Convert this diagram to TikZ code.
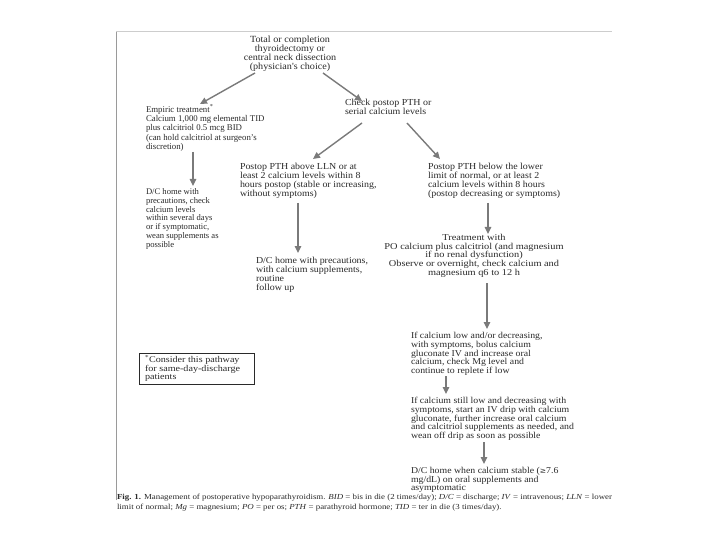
\documentclass[tikz,border=0pt]{standalone}
\usepackage{fontspec}
\setmainfont{Liberation Serif}
\newfontfamily\stA[FakeStretch=1.08]{Liberation Serif}
\newfontfamily\stB[FakeStretch=1.15]{Liberation Serif}
\newfontfamily\stC[FakeStretch=1.09]{Liberation Serif}
\usetikzlibrary{arrows.meta}
\definecolor{txt}{HTML}{2A2A2A}
\definecolor{arr}{HTML}{7A7A7A}
\definecolor{frm}{HTML}{9A9A9A}
\begin{document}
\begin{tikzpicture}[x=1pt,y=-1pt,
  every node/.style={inner sep=0pt,outer sep=0pt,text=txt,font=\fontsize{8.8}{9.3}\selectfont},
  blk/.style={anchor=north west,align=left},
  cblk/.style={anchor=north,align=center},
  midf/.style={font=\stA\fontsize{9.2}{8.9}\selectfont},
  lowf/.style={font=\stB\fontsize{9.0}{8.6}\selectfont},
  botf/.style={font=\stC\fontsize{9.0}{8.6}\selectfont},
  flow/.style={draw=arr,line width=1.4pt,-{Triangle[length=7pt,width=6.5pt]}},
  capt/.style={anchor=base west,font=\stB\fontsize{7.7}{8}\selectfont}]
\useasboundingbox (0,0) rectangle (720,540);
\fill[white] (0,0) rectangle (720,540);
% frame
\draw[frm,line width=1pt] (116,500) -- (116,31);
\draw[frm!50,line width=0.5pt] (116,31) -- (612,31);

\node[cblk,font=\stA\fontsize{9.4}{9.1}\selectfont] (top) at (290,35.5) {Total or completion\\thyroidectomy or\\central neck dissection\\(physician's choice)};
\node[blk] (emp) at (146,104.5) {Empiric treatment\textsuperscript{*}\\Calcium 1,000 mg elemental TID\\plus calcitriol 0.5 mcg BID\\(can hold calcitriol at surgeon's\\discretion)};
\node[blk,midf] (chk) at (345,99.5) {Check postop PTH or\\serial calcium levels};
\node[blk,midf] (above) at (240,163) {Postop PTH above LLN or at\\least 2 calcium levels within 8\\hours postop (stable or increasing,\\without symptoms)};
\node[blk,midf] (below) at (428,163.5) {Postop PTH below the lower\\limit of normal, or at least 2\\calcium levels within 8 hours\\(postop decreasing or symptoms)};
\node[blk,font=\fontsize{8.6}{8.8}\selectfont] (dcl) at (146,188.5) {D/C home with\\precautions, check\\calcium levels\\within several days\\or if symptomatic,\\wean supplements as\\possible};
\node[blk,midf] (dcm) at (256,257.5) {D/C home with precautions,\\with calcium supplements,\\routine\\follow up};
\node[cblk,lowf] (treat) at (474,234.5) {Treatment with\\PO calcium plus calcitriol (and magnesium\\if no renal dysfunction)\\Observe or overnight, check calcium and\\magnesium q6 to 12 h};
\node[blk,botf] (low) at (411,332.5) {If calcium low and/or decreasing,\\with symptoms, bolus calcium\\gluconate IV and increase oral\\calcium, check Mg level and\\continue to replete if low};
\node[blk,botf] (still) at (411,397.5) {If calcium still low and decreasing with\\symptoms, start an IV drip with calcium\\gluconate, further increase oral calcium\\and calcitriol supplements as needed, and\\wean off drip as soon as possible};
\node[blk,botf] (dcf) at (411,467.5) {D/C home when calcium stable ({\fontspec{DejaVu Serif}\fontsize{7.5}{9}\selectfont ≥}7.6\\mg/dL) on oral supplements and\\asymptomatic};

% footnote box
\node[draw=txt,line width=0.7pt,anchor=north west,minimum width=115pt,minimum height=31pt,inner sep=0pt] (fbox) at (139,353) {};
\node[blk,font=\stB\fontsize{8.8}{7.9}\selectfont] (ftxt) at (145,355) {\textsuperscript{*}Consider this pathway\\for same-day-discharge\\patients};

% arrows
\coordinate (a1s) at (255,73); \coordinate (a1e) at (200,104);
\coordinate (a2s) at (323,73); \coordinate (a2e) at (362,101);
\coordinate (a3s) at (193,152); \coordinate (a3e) at (193,186);
\coordinate (a4s) at (362,123); \coordinate (a4e) at (313,159);
\coordinate (a5s) at (407,123); \coordinate (a5e) at (440,159);
\coordinate (a6s) at (298,203); \coordinate (a6e) at (298,253);
\coordinate (a7s) at (488,203); \coordinate (a7e) at (488,234);
\coordinate (a8s) at (487,283); \coordinate (a8e) at (487,329);
\coordinate (a9s) at (446,376); \coordinate (a9e) at (446,394);
\coordinate (a10s) at (484,442); \coordinate (a10e) at (484,464);
\draw[flow] (a1s) -- (a1e);
\draw[flow] (a2s) -- (a2e);
\draw[flow] (a3s) -- (a3e);
\draw[flow] (a4s) -- (a4e);
\draw[flow] (a5s) -- (a5e);
\draw[flow] (a6s) -- (a6e);
\draw[flow] (a7s) -- (a7e);
\draw[flow] (a8s) -- (a8e);
\draw[flow] (a9s) -- (a9e);
\draw[flow] (a10s) -- (a10e);

% caption
\node[capt] (cap1) at (117,499) {\textbf{Fig. 1.} Management of postoperative hypoparathyroidism. \textit{BID} = bis in die (2 times/day); \textit{D/C} = discharge; \textit{IV} = intravenous; \textit{LLN} = lower};
\node[capt] (cap2) at (117,509) {limit of normal; \textit{Mg} = magnesium; \textit{PO} = per os; \textit{PTH} = parathyroid hormone; \textit{TID} = ter in die (3 times/day).};
\end{tikzpicture}
\end{document}
